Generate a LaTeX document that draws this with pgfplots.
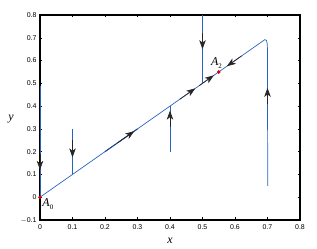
\documentclass[border=0pt]{standalone}
\usepackage{pgfplots}
\pgfplotsset{compat=1.18}
\usepackage{fontspec}
\setmainfont{Liberation Serif}
\newfontfamily\ticks{Liberation Sans}
\usetikzlibrary{arrows.meta}
\definecolor{traj}{RGB}{40,100,190}
\begin{document}
\begin{tikzpicture}
\begin{axis}[
  scale only axis, width=260bp, height=205bp,
  xmin=0, xmax=0.8, ymin=-0.1, ymax=0.8,
  xtick={0,0.1,0.2,0.3,0.4,0.5,0.6,0.7,0.8}, ytick={-0.1,0,0.1,0.2,0.3,0.4,0.5,0.6,0.7,0.8},
  xticklabels={0,0.1,0.2,0.3,0.4,0.5,0.6,0.7,0.8},
  yticklabels={$-$0.1,0,0.1,0.2,0.3,0.4,0.5,0.6,0.7,0.8},
  tick align=inside, major tick length=2.5bp,
  tick style={black, line width=0.4pt},
  ticklabel style={font=\ticks\fontsize{7}{8}\selectfont},
  xticklabel style={yshift=-1bp},
  /pgf/number format/assume math mode=true,
  axis line style={line width=1.2pt},
  xlabel={\itshape x}, ylabel={\itshape y},
  xlabel style={font=\fontsize{12}{12}\selectfont, yshift=-2bp},
  ylabel style={font=\fontsize{12}{12}\selectfont, rotate=-90, yshift=-2bp},
  clip=false,
]
% slow manifold and x=0.7 trajectory
\addplot[traj, line width=0.7pt] coordinates {(0,0) (0.692,0.692) (0.697,0.688) (0.699,0.675) (0.700,0.65) (0.700,0.4) (0.701,0.05)};
\addplot[traj!70!black, line width=1pt] coordinates {(0.2,0.2) (0.3,0.3)};
% vertical fast trajectories
\addplot[traj, line width=1pt] coordinates {(0,0.49) (0,0)};
\addplot[traj, line width=0.7pt] coordinates {(0.1,0.3) (0.1,0.1)};
\addplot[traj, line width=0.7pt] coordinates {(0.4,0.2) (0.4,0.4)};
\addplot[traj, line width=0.7pt] coordinates {(0.5,0.8) (0.5,0.5)};
% arrowheads
\pgfplotsset{ah/.style={black!85, line width=0.7pt, -{Stealth[length=9bp,width=6.5bp,inset=2.5bp]}}}
\addplot[ah] coordinates {(0,0.19) (0,0.12)};
\addplot[ah] coordinates {(0.1,0.25) (0.1,0.175)};
\addplot[ah] coordinates {(0.4,0.31) (0.4,0.38)};
\addplot[ah] coordinates {(0.5,0.72) (0.5,0.65)};
\addplot[ah] coordinates {(0.7,0.41) (0.7,0.48)};
\addplot[ah] coordinates {(0.24,0.24) (0.29,0.29)};
\addplot[ah] coordinates {(0.43,0.43) (0.478,0.478)};
\addplot[ah] coordinates {(0.49,0.49) (0.535,0.535)};
\addplot[ah] coordinates {(0.62,0.62) (0.575,0.575)};
% equilibria
\addplot[only marks, mark=*, mark size=1.6pt, red!85!black] coordinates {(0,0) (0.55,0.55)};
\node[font=\fontsize{12}{12}\selectfont\itshape, anchor=west, inner sep=1pt] at (axis cs:0.004,-0.03) {A\raisebox{-3bp}{\fontsize{7}{7}\selectfont\upshape 0}};
\node[font=\fontsize{12}{12}\selectfont\itshape, anchor=west, inner sep=1pt] at (axis cs:0.523,0.59) {A\raisebox{-3bp}{\fontsize{7}{7}\selectfont\upshape 2}};
\path (current axis.south west) ++(-40bp,-29bp) coordinate (bl);
\path (current axis.north east) ++(17bp,15bp) coordinate (tr);
\end{axis}
\path (bl) (tr);
\end{tikzpicture}
\end{document}
